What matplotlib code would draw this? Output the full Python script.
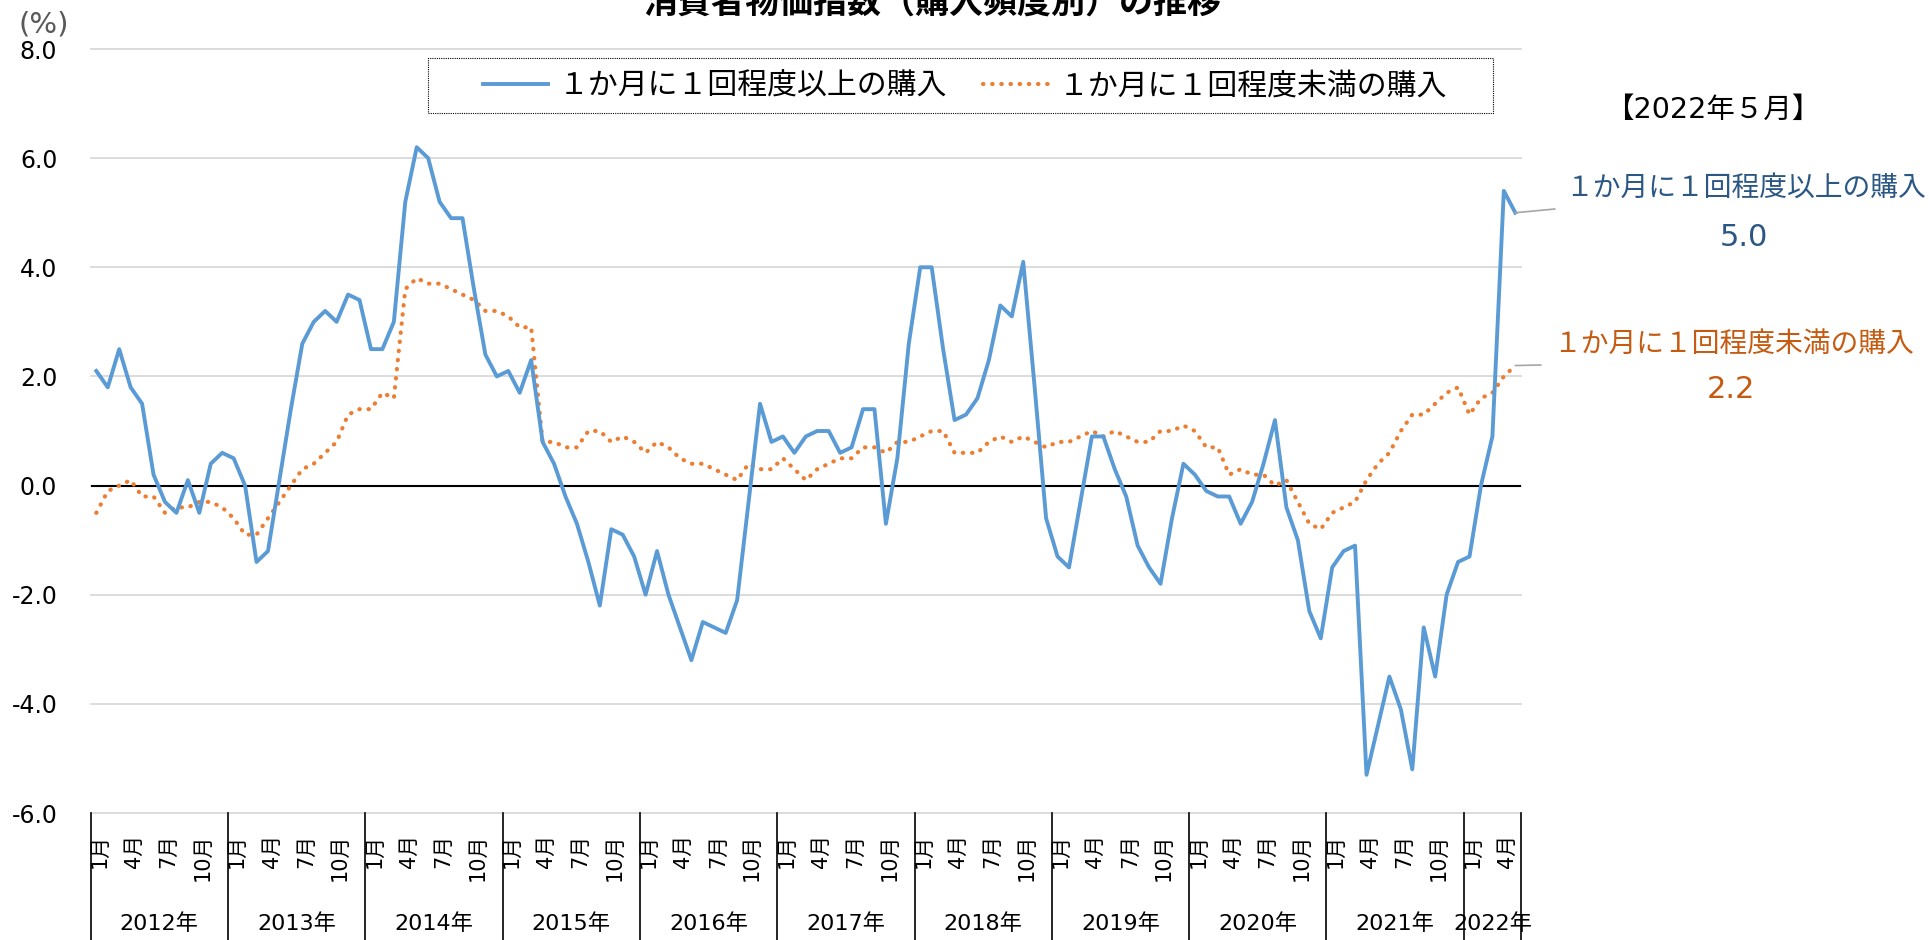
import matplotlib.pyplot as plt
import matplotlib.transforms as mtransforms
from matplotlib.patches import Rectangle
import numpy as np

plt.rcParams['font.family'] = ['DejaVu Sans', 'Noto Sans CJK JP']

title = '消費者物価指数（購入頻度別）の推移'
label_high = '１か月に１回程度以上の購入'
label_low = '１か月に１回程度未満の購入'
latest = '【2022年５月】'

years = [2012, 2013, 2014, 2015, 2016, 2017, 2018, 2019, 2020, 2021, 2022]
months_in_year = [12, 12, 12, 12, 12, 12, 12, 12, 12, 12, 5]
quarter_labels = ['1月', '4月', '7月', '10月']

# 1か月に1回程度以上の購入 (前年同月比, %)
high = [
    2.1, 1.8, 2.5, 1.8, 1.5, 0.2, -0.3, -0.5, 0.1, -0.5, 0.4, 0.6,       # 2012
    0.5, 0.0, -1.4, -1.2, 0.1, 1.4, 2.6, 3.0, 3.2, 3.0, 3.5, 3.4,        # 2013
    2.5, 2.5, 3.0, 5.2, 6.2, 6.0, 5.2, 4.9, 4.9, 3.6, 2.4, 2.0,          # 2014
    2.1, 1.7, 2.3, 0.8, 0.4, -0.2, -0.7, -1.4, -2.2, -0.8, -0.9, -1.3,   # 2015
    -2.0, -1.2, -2.0, -2.6, -3.2, -2.5, -2.6, -2.7, -2.1, -0.3, 1.5, 0.8,  # 2016
    0.9, 0.6, 0.9, 1.0, 1.0, 0.6, 0.7, 1.4, 1.4, -0.7, 0.5, 2.6,         # 2017
    4.0, 4.0, 2.5, 1.2, 1.3, 1.6, 2.3, 3.3, 3.1, 4.1, 1.8, -0.6,         # 2018
    -1.3, -1.5, -0.3, 0.9, 0.9, 0.3, -0.2, -1.1, -1.5, -1.8, -0.6, 0.4,  # 2019
    0.2, -0.1, -0.2, -0.2, -0.7, -0.3, 0.4, 1.2, -0.4, -1.0, -2.3, -2.8, # 2020
    -1.5, -1.2, -1.1, -5.3, -4.4, -3.5, -4.1, -5.2, -2.6, -3.5, -2.0, -1.4,  # 2021
    -1.3, 0.0, 0.9, 5.4, 5.0,                                            # 2022
]

# 1か月に1回程度未満の購入 (前年同月比, %)
low = [
    -0.5, -0.1, 0.0, 0.1, -0.2, -0.2, -0.5, -0.4, -0.4, -0.3, -0.3, -0.4,  # 2012
    -0.6, -0.9, -0.9, -0.6, -0.3, 0.0, 0.3, 0.4, 0.6, 0.8, 1.3, 1.4,     # 2013
    1.4, 1.7, 1.6, 3.6, 3.8, 3.7, 3.7, 3.6, 3.5, 3.4, 3.2, 3.2,          # 2014
    3.1, 2.9, 2.9, 0.8, 0.8, 0.7, 0.7, 1.0, 1.0, 0.8, 0.9, 0.8,          # 2015
    0.6, 0.8, 0.7, 0.5, 0.4, 0.4, 0.3, 0.2, 0.1, 0.4, 0.3, 0.3,          # 2016
    0.5, 0.3, 0.1, 0.3, 0.4, 0.5, 0.5, 0.7, 0.7, 0.6, 0.8, 0.8,          # 2017
    0.9, 1.0, 1.0, 0.6, 0.6, 0.6, 0.8, 0.9, 0.8, 0.9, 0.8, 0.7,          # 2018
    0.8, 0.8, 0.9, 1.0, 0.9, 1.0, 0.9, 0.8, 0.8, 1.0, 1.0, 1.1,          # 2019
    1.0, 0.7, 0.7, 0.2, 0.3, 0.2, 0.2, 0.0, 0.1, -0.3, -0.7, -0.8,       # 2020
    -0.5, -0.4, -0.3, 0.1, 0.4, 0.6, 1.0, 1.3, 1.3, 1.5, 1.7, 1.8,       # 2021
    1.3, 1.6, 1.7, 2.0, 2.2,                                             # 2022
]

blue = '#5B9BD5'
orange = '#ED7D31'
blue_text = '#2A5783'
orange_text = '#C55A11'

W, H = 1929, 940
fig = plt.figure(figsize=(W / 100, H / 100), dpi=100)
ax = fig.add_axes([90.6 / W, 1 - 813 / H, (1521 - 90.6) / W, (813 - 49) / H])

x = np.arange(len(high))
ax.set_xlim(-0.5, len(high) - 0.5)
ax.set_ylim(-6, 8)

yticks = np.arange(-6, 8.1, 2)
for v in yticks:
    ax.axhline(v, color='#D9D9D9', lw=1.3, zorder=0, clip_on=False)
ax.axhline(0, color='black', lw=1.5, zorder=1)

ax.plot(x, high, color=blue, lw=2.8, solid_joinstyle='round', label=label_high, zorder=3)
ax.plot(x, low, color=orange, lw=3.0, linestyle=(0, (0.1, 2.1)),
        dash_capstyle='round', label=label_low, zorder=2)

for s in ax.spines.values():
    s.set_visible(False)
ax.set_xticks([])
ax.set_yticks(yticks)
ax.set_yticklabels([f'{v:.1f}' for v in yticks], fontsize=17)
ax.tick_params(axis='y', length=0, pad=24)

# category axis: months and years below the plot
trans = mtransforms.blended_transform_factory(ax.transData, fig.transFigure)
start = 0
for yr, cnt in zip(years, months_in_year):
    for k in range(0, cnt, 3):
        ax.text(start + k + 0.3, 1 - 834 / H, quarter_labels[k // 3], rotation=90,
                ha='center', va='top', fontsize=15, transform=trans)
    ax.text(start + (cnt - 1) / 2, 1 - 924 / H, f'{yr}年', ha='center', va='center',
            fontsize=16, transform=trans)
    start += cnt
bounds = np.cumsum([0] + months_in_year) - 0.5
for b in bounds:
    ax.plot([b, b], [1 - 813 / H, 0], transform=trans, color='black', lw=1.2, clip_on=False)

# legend with a dotted frame drawn separately
leg = ax.legend(loc='center', bbox_to_anchor=(965 / W, 1 - 86 / H),
                bbox_transform=fig.transFigure, ncol=2, fontsize=21.5, frameon=False,
                handlelength=2.2, handletextpad=0.35, columnspacing=1.2)
fig.patches.append(Rectangle((428 / W, 1 - 113 / H), (1493 - 428) / W, (113 - 58) / H,
                             transform=fig.transFigure, fill=False, edgecolor='black',
                             lw=0.8, linestyle=(0, (1, 1))))

fig.text(932 / W, 1 - 3 / H, title, ha='center', va='center', fontsize=24.5, fontweight='bold')
fig.text(44 / W, 1 - 24 / H, '(%)', ha='center', va='center', fontsize=21, color='#595959')

# latest values on the right
fig.text(1713 / W, 1 - 110 / H, latest, ha='center', va='center', fontsize=20.5)
fig.text(1746 / W, 1 - 188 / H, label_high, ha='center', va='center', fontsize=20, color=blue_text)
fig.text(1744 / W, 1 - 237 / H, f'{high[-1]:.1f}', ha='center', va='center', fontsize=22, color=blue_text)
fig.text(1734 / W, 1 - 344 / H, label_low, ha='center', va='center', fontsize=20, color=orange_text)
fig.text(1731 / W, 1 - 390 / H, f'{low[-1]:.1f}', ha='center', va='center', fontsize=22, color=orange_text)

ax.annotate('', xy=(x[-1], high[-1]), xytext=(1555 / W, 1 - 209 / H), textcoords='figure fraction',
            arrowprops=dict(arrowstyle='-', color='#A6A6A6', lw=1.2, shrinkA=0, shrinkB=0))
ax.annotate('', xy=(x[-1], low[-1]), xytext=(1541 / W, 1 - 365 / H), textcoords='figure fraction',
            arrowprops=dict(arrowstyle='-', color='#A6A6A6', lw=1.2, shrinkA=0, shrinkB=0))

fig.savefig('out.png', dpi=100)
